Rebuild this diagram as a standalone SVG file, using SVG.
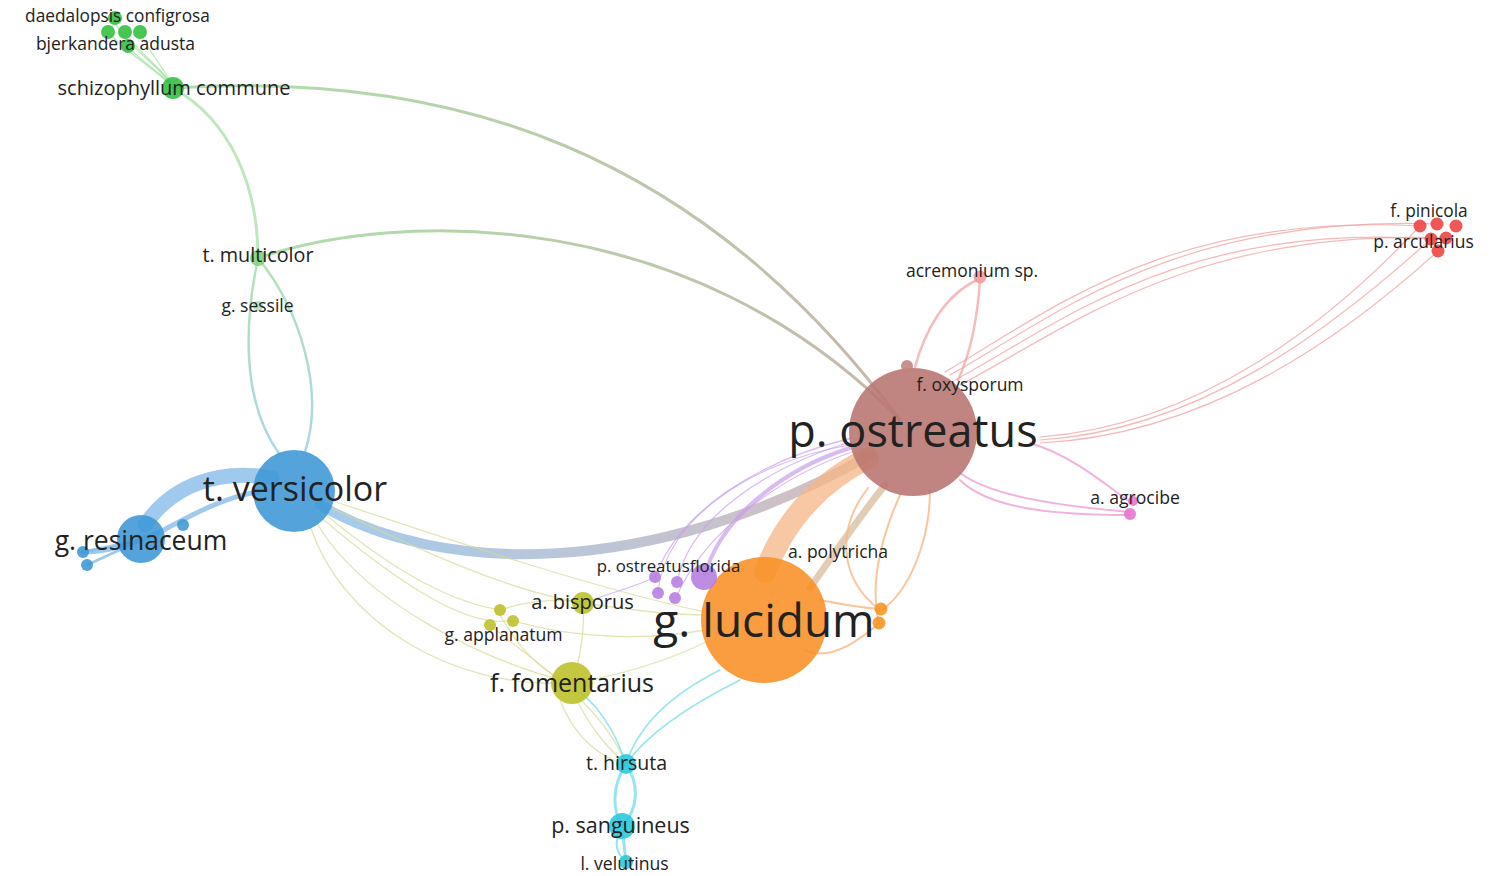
<svg xmlns="http://www.w3.org/2000/svg" width="1497" height="876" viewBox="0 0 1497 876">
<style>
text{font-family:"Open Sans","Noto Sans","Liberation Sans",sans-serif;fill:#222;text-anchor:middle}
.e{fill:none;stroke-linecap:round}
.gr{stroke:#8fd88f;stroke-opacity:.6}
.rd{stroke:#f2a0a0;stroke-opacity:.75;stroke-width:1.2}
.pk{stroke:#ef9fd6;stroke-opacity:.8;stroke-width:2}
.og{stroke:#f7b784;stroke-opacity:.8;stroke-width:2}
.pu{stroke:#c99fe8;stroke-opacity:.7}
.yl{stroke:#d6da94;stroke-opacity:.7;stroke-width:1.3}
.cy{stroke:#7adfe8;stroke-opacity:.8}
.bl{stroke:#7fb8e8;stroke-opacity:.75}
.n{fill-opacity:.88}
</style>
<defs>
<linearGradient id="g1" gradientUnits="userSpaceOnUse" x1="173" y1="88" x2="900" y2="420"><stop offset="0" stop-color="#9ad896"/><stop offset="1" stop-color="#b9a595"/></linearGradient>
<linearGradient id="g2" gradientUnits="userSpaceOnUse" x1="258" y1="258" x2="900" y2="420"><stop offset="0" stop-color="#9ad896"/><stop offset="1" stop-color="#b9a595"/></linearGradient>
<linearGradient id="g3" gradientUnits="userSpaceOnUse" x1="320" y1="505" x2="870" y2="455"><stop offset="0" stop-color="#7db5e6"/><stop offset="1" stop-color="#c4a3a3"/></linearGradient>
<linearGradient id="g4" gradientUnits="userSpaceOnUse" x1="258" y1="258" x2="295" y2="460"><stop offset="0" stop-color="#a6dea6"/><stop offset="1" stop-color="#9ccfea"/></linearGradient>
</defs>
<rect width="1497" height="876" fill="#fff"/>
<g id="connectors">
<path class="e gr" stroke-width="1.3" d="M113,20 C130,50 160,65 173,88"/>
<path class="e gr" stroke-width="1.3" d="M108,32 C128,55 158,70 173,88"/>
<path class="e gr" stroke-width="1.3" d="M125,32 C140,55 165,70 173,88"/>
<path class="e gr" stroke-width="1.3" d="M140,32 C150,55 168,72 173,88"/>
<path class="e gr" stroke-width="1.3" d="M128,47 C145,65 165,75 173,88"/>
<path class="e gr" stroke-width="3" d="M173,88 C230,120 258,185 258,258"/>
<path class="e" stroke="url(#g1)" stroke-opacity=".8" stroke-width="3" d="M173,88 C450,70 700,150 900,420"/>
<path class="e" stroke="url(#g2)" stroke-opacity=".8" stroke-width="3" d="M258,258 C400,210 690,205 900,420"/>
<path class="e" stroke="url(#g4)" stroke-opacity=".85" stroke-width="2.5" d="M258,258 C245,320 240,400 280,455"/>
<path class="e" stroke="url(#g4)" stroke-opacity=".85" stroke-width="2.5" d="M258,258 C300,310 325,390 305,452"/>
<path class="e bl" stroke-width="15" stroke-opacity=".65" d="M272,478 C220,468 172,485 145,525"/>
<path class="e bl" stroke-width="5" stroke-opacity=".5" d="M258,492 C225,497 195,513 160,532 C125,548 100,552 83,552"/>
<path class="e bl" stroke-width="3" d="M141,540 L83,552 M141,540 L87,565"/>
<path class="e" stroke="url(#g3)" stroke-opacity=".7" stroke-width="10" d="M320,505 C440,575 650,580 870,455"/>
<path class="e yl" d="M320,510 C380,560 440,600 500,610"/>
<path class="e yl" d="M325,505 C400,540 500,590 583,603"/>
<path class="e yl" d="M330,500 C450,540 600,590 705,612"/>
<path class="e yl" d="M315,520 C360,600 480,660 572,683"/>
<path class="e yl" d="M310,525 C340,620 450,690 572,683"/>
<path class="e yl" d="M318,515 C400,585 470,630 513,620"/>
<path class="e yl" d="M500,610 C530,600 560,598 583,603"/>
<path class="e yl" d="M500,615 C520,650 545,675 572,683"/>
<path class="e yl" d="M583,603 C585,630 580,660 572,683"/>
<path class="e yl" d="M583,603 C630,610 670,615 705,615"/>
<path class="e yl" d="M510,620 C580,640 650,640 705,630"/>
<path class="e yl" d="M490,625 C530,660 600,700 626,764"/>
<path class="e yl" stroke-width="7" stroke-opacity=".9" d="M590,680 C630,672 670,660 710,640"/>
<path class="e yl" stroke-width="2" d="M572,690 C590,730 610,750 626,764"/>
<path class="e yl" stroke-width="2" d="M560,700 C575,740 605,760 626,764"/>
<path class="e cy" stroke-width="1.5" d="M626,764 C640,720 680,690 720,670"/>
<path class="e cy" stroke-width="1.5" d="M626,764 C650,730 700,700 740,680"/>
<path class="e cy" stroke-width="1.5" d="M626,764 C615,730 595,700 575,690"/>
<path class="e cy" stroke-width="3" d="M626,764 C612,785 612,810 622,826"/>
<path class="e cy" stroke-width="3" d="M626,764 C640,785 638,810 622,826"/>
<path class="e cy" stroke-width="3" d="M622,826 L626,862"/>
<path class="e cy" stroke-width="2" d="M620,830 C613,845 618,855 626,862"/>
<path class="e pu" stroke-width="4" d="M705,575 C720,520 780,470 850,448"/>
<path class="e pu" stroke-width="1.3" d="M677,582 C690,520 760,470 850,442"/>
<path class="e pu" stroke-width="1.3" d="M655,577 C680,510 760,460 852,438"/>
<path class="e pu" stroke-width="1.1" d="M658,592 C665,520 750,462 850,445"/>
<path class="e pu" stroke-width="1.1" d="M676,598 C700,540 770,480 852,452"/>
<path class="e pu" stroke-width="1.1" d="M583,603 C620,590 640,585 655,577"/>
<path class="e" stroke="#f6b585" stroke-opacity=".75" stroke-width="22" d="M765,572 C785,520 820,482 868,458"/>
<path class="e" stroke="#d9bb9c" stroke-opacity=".75" stroke-width="7" d="M810,588 C840,545 865,510 885,485"/>
<path class="e og" d="M868,488 C835,530 840,580 880,610"/>
<path class="e og" d="M930,490 C930,540 910,590 882,610"/>
<path class="e og" d="M900,495 C880,540 870,585 879,623"/>
<path class="e og" d="M805,650 C830,662 860,640 879,623"/>
<path class="e og" d="M820,600 C845,605 865,608 880,609"/>
<path class="e" stroke="#f4b0b0" stroke-opacity=".85" stroke-width="2.5" d="M915,367 C925,330 945,295 977,280"/>
<path class="e" stroke="#f4b0b0" stroke-opacity=".85" stroke-width="2.5" d="M958,380 C972,350 978,310 980,280"/>
<path class="e rd" d="M945,372 C1045,315 1165,212 1420,226"/>
<path class="e rd" d="M950,375 C1050,320 1170,215 1437,224"/>
<path class="e rd" d="M955,380 C1058,325 1180,222 1431,239"/>
<path class="e rd" d="M960,385 C1065,330 1190,228 1446,238"/>
<path class="e rd" d="M1040,437 C1200,425 1330,322 1420,226"/>
<path class="e rd" d="M1040,440 C1200,430 1330,330 1431,239"/>
<path class="e rd" d="M1040,443 C1205,435 1340,340 1438,251"/>
<path class="e pk" d="M1030,443 C1070,455 1100,480 1130,502"/>
<path class="e pk" d="M960,473 C990,495 1050,505 1130,512"/>
<path class="e pk" d="M960,480 C990,510 1060,515 1130,515"/>
</g>
<g id="n-postreatus"><circle class="n" cx="913" cy="432" r="64" fill="#b87470"/></g>
<g id="n-glucidum"><circle class="n" cx="764" cy="620" r="63" fill="#f88f26"/></g>
<g id="n-tversicolor"><circle class="n" cx="294" cy="491" r="41" fill="#3c97d6"/></g>
<g id="n-gresinaceum"><circle class="n" cx="141" cy="539" r="24" fill="#3c97d6"/><circle class="n" cx="183" cy="525" r="6" fill="#3c97d6"/><circle class="n" cx="83" cy="552" r="6" fill="#3c97d6"/><circle class="n" cx="87" cy="565" r="6" fill="#3c97d6"/></g>
<g id="n-ffomentarius"><circle class="n" cx="572" cy="683" r="21" fill="#bcc027"/></g>
<g id="n-abisporus"><circle class="n" cx="583" cy="603" r="11" fill="#bcc027"/></g>
<g id="n-gapplanatum"><circle class="n" cx="500" cy="610" r="6" fill="#bcc027"/><circle class="n" cx="490" cy="625" r="6" fill="#bcc027"/><circle class="n" cx="513" cy="621" r="6" fill="#bcc027"/></g>
<g id="n-postreatusflorida"><circle class="n" cx="704" cy="577" r="13" fill="#b57ddf"/><circle class="n" cx="655" cy="577" r="6" fill="#b57ddf"/><circle class="n" cx="677" cy="582" r="6" fill="#b57ddf"/><circle class="n" cx="658" cy="593" r="6" fill="#b57ddf"/><circle class="n" cx="675" cy="598" r="6" fill="#b57ddf"/></g>
<g id="n-apolytricha"><circle class="n" cx="881" cy="609" r="6.5" fill="#f7931e"/><circle class="n" cx="879" cy="623" r="6.5" fill="#f7931e"/></g>
<g id="n-thirsuta"><circle class="n" cx="626" cy="764" r="10" fill="#27c8dc"/></g>
<g id="n-psanguineus"><circle class="n" cx="622" cy="826" r="13" fill="#27c8dc"/></g>
<g id="n-lvelutinus"><circle class="n" cx="626" cy="862" r="7" fill="#27c8dc"/></g>
<g id="n-schizophyllum"><circle class="n" cx="173" cy="88" r="11" fill="#2fbf3e"/></g>
<g id="n-daedalopsis"><circle class="n" cx="115" cy="18" r="7" fill="#2fbf3e"/><circle class="n" cx="108" cy="32" r="7" fill="#2fbf3e"/><circle class="n" cx="125" cy="32" r="7" fill="#2fbf3e"/><circle class="n" cx="140" cy="32" r="7" fill="#2fbf3e"/><circle class="n" cx="128" cy="46" r="7" fill="#2fbf3e"/></g>
<g id="n-tmulticolor"><circle class="n" cx="258" cy="258" r="8" fill="#7fd47f"/></g>
<g id="n-gsessile"><circle class="n" cx="258" cy="306" r="5" fill="#a8e2b0"/></g>
<g id="n-brown"><circle class="n" cx="907" cy="366" r="6" fill="#c0837a"/></g>
<g id="n-acremonium"><circle class="n" cx="980" cy="277" r="6.5" fill="#f29a9a"/></g>
<g id="n-fpinicola"><circle class="n" cx="1420" cy="226" r="6.5" fill="#ee4040"/><circle class="n" cx="1437" cy="224" r="6.5" fill="#ee4040"/><circle class="n" cx="1456" cy="226" r="6.5" fill="#ee4040"/><circle class="n" cx="1431" cy="239" r="6.5" fill="#ee4040"/><circle class="n" cx="1446" cy="238" r="6.5" fill="#ee4040"/><circle class="n" cx="1438" cy="251" r="6.5" fill="#ee4040"/></g>
<g id="n-aagrocibe"><circle class="n" cx="1133" cy="501" r="5" fill="#e86fcf"/><circle class="n" cx="1130" cy="514" r="6" fill="#e86fcf"/></g>
<g id="labels">
<text x="913" y="447" font-size="45">p. ostreatus</text>
<text x="764" y="637" font-size="46">g. lucidum</text>
<text x="295" y="501" font-size="34">t. versicolor</text>
<text x="141" y="550" font-size="26.5">g. resinaceum</text>
<text x="572" y="692" font-size="25">f. fomentarius</text>
<text x="174" y="95" font-size="20">schizophyllum commune</text>
<text x="258" y="262" font-size="19.8">t. multicolor</text>
<text x="257.5" y="312" font-size="17.5">g. sessile</text>
<text x="117.5" y="22" font-size="17.3">daedalopsis configrosa</text>
<text x="115.5" y="50" font-size="17.5">bjerkandera adusta</text>
<text x="972" y="277" font-size="17.5">acremonium sp.</text>
<text x="970" y="391" font-size="17.5">f. oxysporum</text>
<text x="1429" y="217" font-size="17.3">f. pinicola</text>
<text x="1423.5" y="248" font-size="17.5">p. arcularius</text>
<text x="1135" y="504" font-size="17.6">a. agrocibe</text>
<text x="838" y="558" font-size="17.5">a. polytricha</text>
<text x="668.5" y="572" font-size="16.8">p. ostreatusflorida</text>
<text x="582.5" y="609" font-size="20">a. bisporus</text>
<text x="503.5" y="641" font-size="17.6">g. applanatum</text>
<text x="626.5" y="770" font-size="19.5">t. hirsuta</text>
<text x="620.5" y="833" font-size="21.5">p. sanguineus</text>
<text x="624.5" y="870" font-size="17.6">l. velutinus</text>
</g>
</svg>
